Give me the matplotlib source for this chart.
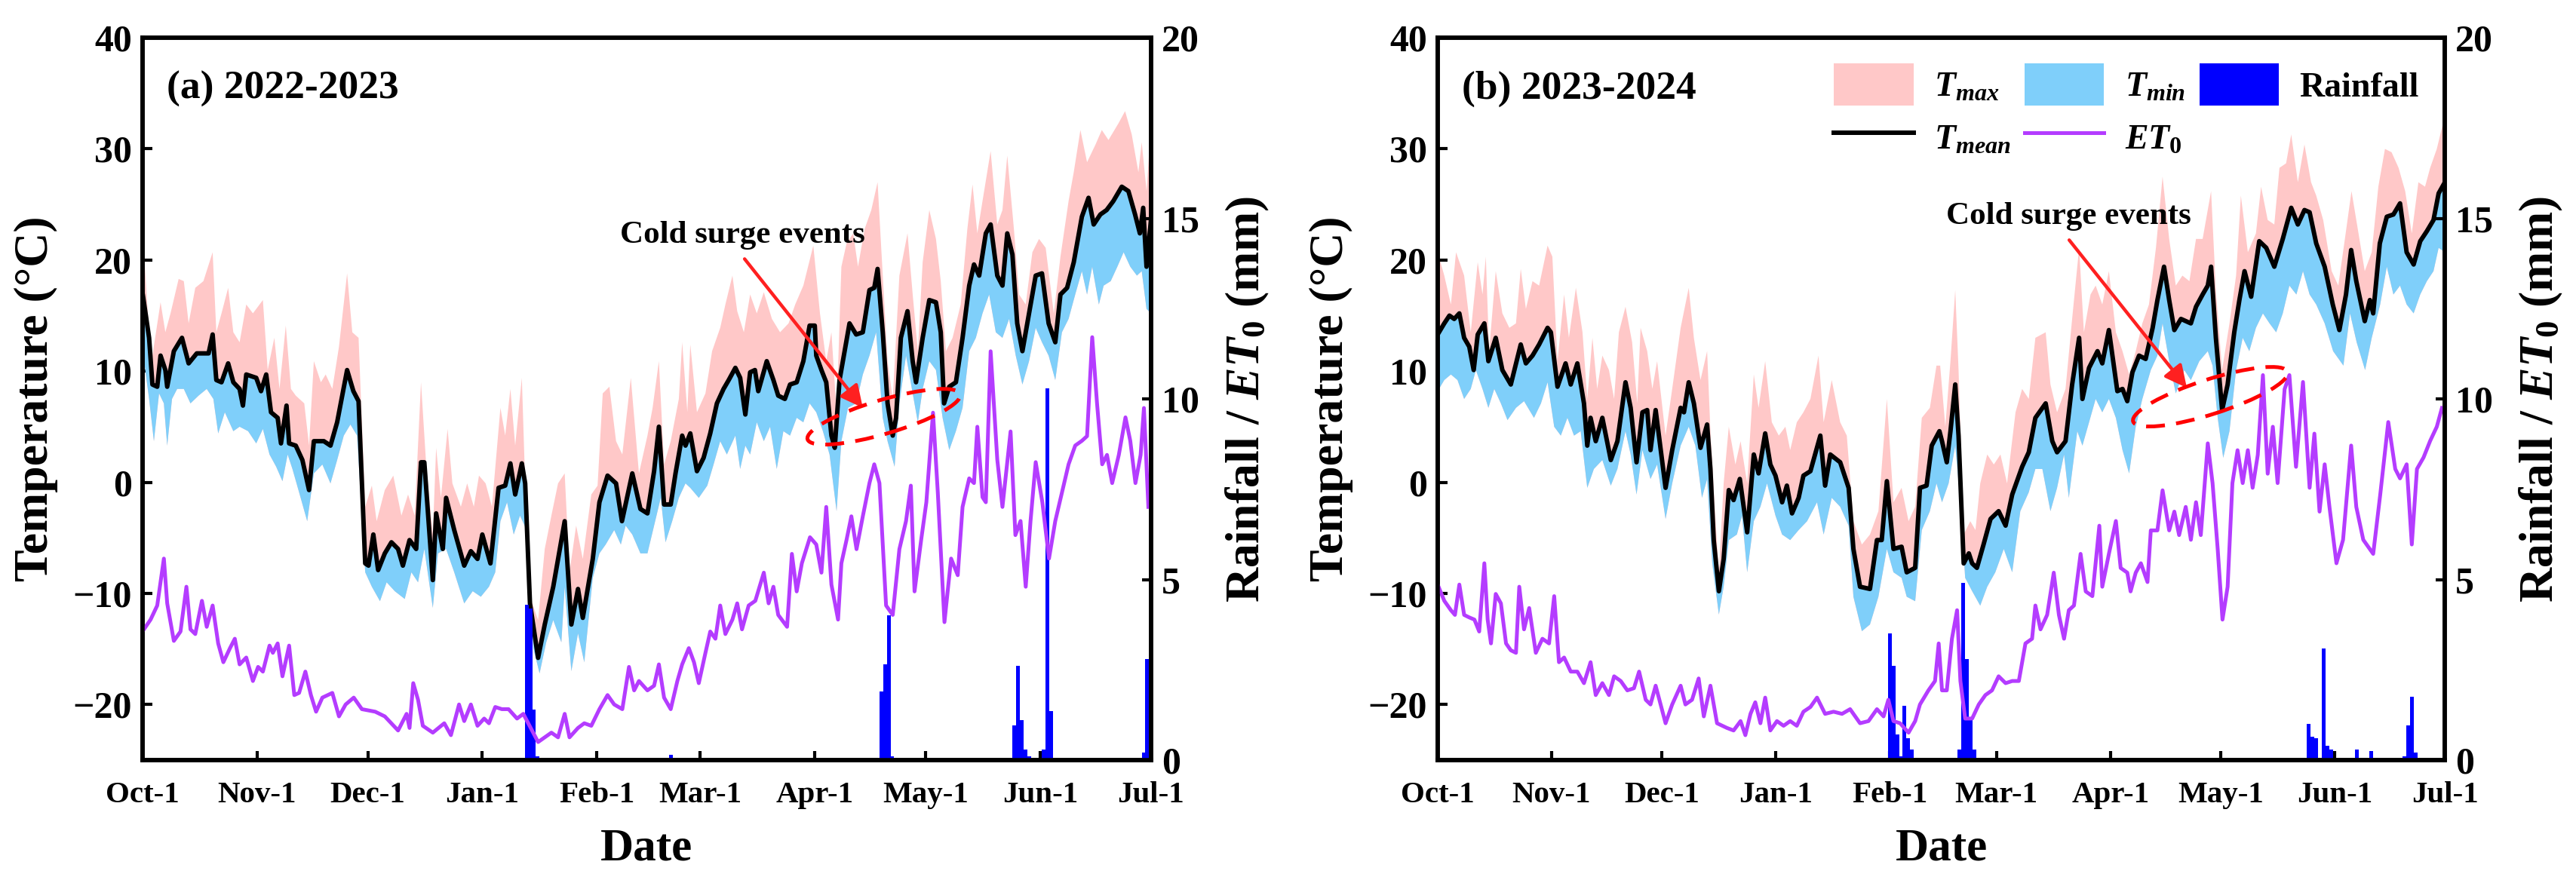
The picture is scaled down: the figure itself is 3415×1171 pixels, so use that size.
import numpy as np
import pandas as pd
import matplotlib
matplotlib.use("Agg")
from matplotlib import pyplot as plt
from matplotlib import transforms
from matplotlib.patches import Ellipse, Patch
from matplotlib.lines import Line2D

# daily weather of two growing seasons
# x values are days counted from Oct-1 of each season

# ---------------- (a) 2022-2023 ----------------
A_MEAN_DAY = [0, 1.8, 2.7, 4, 4.9, 6.2, 6.7, 8.5, 10.7, 12.5,
              14.7, 17.9, 19, 20, 21.4, 23.2, 24.6, 26.3, 27.2, 28.1,
              30.8, 32.1, 33.5, 34.8, 36.6, 37.5, 39, 39.7, 41.5, 43.3,
              45.1, 46.4, 49.1, 50.9, 52.7, 55.4, 57.1, 58.5, 60.3, 61.2,
              62.5, 63.8, 65.6, 67.4, 69.2, 70.5, 72.3, 74.1, 75.4, 76.3,
              78.6, 79.5, 81.3, 82.2, 84.4, 87.1, 88.9, 90.7, 92, 94.2,
              96.4, 98.2, 99.6, 100.9, 102.7, 103.6, 104.9, 107.1, 108.9, 111.2,
              114.3, 116.1, 117.9, 119.2, 121.9, 123.7, 125.9, 128.2, 129.8, 132.6,
              134.8, 136.7, 138.5, 139.8, 141.2, 143, 144.3, 146.1, 147, 148.3,
              150.1, 151.9, 153.7, 155.5, 157.3, 158.7, 160.5, 161.8, 163.2, 164.5,
              165.8, 166.7, 169, 170.8, 172.1, 173.9, 175.3, 177.1, 178.9, 180.6,
              182, 182.4, 183.8, 185.1, 186.5, 187.4, 188.7, 191.4, 193.2, 195,
              196.8, 198.1, 199, 200.4, 201.7, 203.1, 204, 205.3, 207.1, 208.5,
              209.4, 211.2, 213, 214.8, 216.1, 217, 218.4, 220.2, 222, 223.8,
              225.1, 226.5, 228.3, 229.6, 231.4, 232.8, 234.1, 235.5, 236.8, 238.2,
              240, 241.8, 243.5, 245.3, 247.1, 248.5, 250.3, 252.1, 254.3, 256.1,
              257.5, 259.3, 261, 262.8, 265.1, 266.9, 268.7, 270, 270.9, 271.8,
              273]
A_MEAN = [17.1, 13, 8.8, 8.6, 11.4, 10.1, 8.6, 11.8, 13, 10.7,
          11.6, 11.6, 13.3, 9.2, 9, 10.7, 9, 8.4, 6.9, 9.7,
          9.4, 8.2, 9.7, 6.3, 5.8, 3.5, 6.9, 3.5, 3.3, 2,
          -0.7, 3.7, 3.7, 3.3, 5.4, 10.1, 8.2, 7.3, -7.3, -7.5,
          -4.7, -7.9, -6.4, -5.4, -6, -7.5, -5.2, -6, 1.8, 1.8,
          -8.8, -2.8, -6, -1.4, -4.3, -7.5, -6.2, -6.9, -4.7, -7.3,
          -0.5, -0.3, 1.7, -1.1, 1.7, -0.1, -10.9, -15.8, -12.8, -9.4,
          -3.5, -12.8, -9.6, -12.2, -6.9, -1.8, 0.6, -0.1, -3.5, 0.8,
          -2.4, -2.8, 1, 5, -2, -2, 0.8, 4.2, 3.3, 4.4,
          1, 2.2, 4.4, 7.1, 8.4, 9.2, 10.3, 9.4, 6.1, 9.9,
          10.1, 8.2, 10.9, 9.2, 7.8, 7.5, 8.8, 9, 10.9, 14.1,
          14.1, 11.4, 10.1, 9, 4.2, 3.1, 9.2, 14.3, 13.3, 13.5,
          17.3, 17.5, 19.2, 13.5, 7.1, 4.2, 5.8, 13, 15.4, 10.9,
          9, 13, 16.4, 16.2, 13.5, 7.1, 8.6, 9, 13, 17.7,
          19.6, 18.6, 22.4, 23.2, 18.6, 17.7, 22.4, 20.5, 14.3, 11.8,
          15.2, 18.6, 18.8, 14.3, 12.6, 16.9, 17.5, 19.8, 23.9, 25.6,
          23.2, 24.1, 24.5, 25.3, 26.6, 26.2, 24.1, 22.4, 24.7, 19.4,
          23.6]

A_MAX_DAY = [0, 1.8, 2.7, 4.9, 6.2, 7.6, 9.8, 11.2, 12.5, 14.3,
             16.5, 19, 20, 21.4, 23.2, 24.6, 26.3, 28.1, 29.9, 32.6,
             33.9, 35.7, 37.1, 38.8, 40.2, 41.5, 43.8, 45.1, 46.4, 48.3,
             49.6, 51.4, 53.2, 55.4, 56.8, 58.5, 60.3, 62.1, 63.4, 65.6,
             67.9, 70.1, 71.9, 73.7, 75.4, 76.8, 78.6, 79.5, 80.8, 82.6,
             83.9, 86.2, 87.9, 89.7, 91.1, 92.9, 94.6, 96.9, 98.2, 99.6,
             100.9, 102.7, 103.6, 104.9, 107.1, 108.9, 110.7, 112.5, 114.3, 115.6,
             117.4, 119.2, 121.5, 123.2, 124.6, 126.4, 128.2, 129.9, 132.2, 134.4,
             136.7, 138.1, 139.8, 141.2, 143, 145.2, 146.1, 147.5, 148.3, 150.1,
             152.4, 154.2, 156.4, 157.8, 159.7, 161, 162.8, 164.5, 166.3, 168.2,
             170.4, 172.6, 174.9, 176.7, 178.9, 181.6, 183.4, 185.1, 186.5, 187.9,
             189.2, 190.6, 192.4, 193.7, 195.5, 197.3, 199, 200.4, 201.7, 203.1,
             204.9, 207.1, 208.5, 209.9, 211.2, 213, 214.8, 216.1, 217.5, 219.3,
             221.5, 223.3, 224.7, 226, 227.4, 229.6, 231.4, 232.8, 234.1, 235.9,
             237.3, 239.1, 240.9, 242.7, 244.5, 246.7, 248.5, 250.7, 252.1, 253.9,
             255.7, 258, 259.7, 261.5, 264.2, 266, 267.8, 269.6, 270.5, 271.8,
             273]
A_MAX = [22.8, 13.5, 11.4, 16.2, 13.5, 15.2, 18.3, 18.1, 14.3, 17.5,
         18.1, 20.7, 13.5, 15.2, 17.5, 13.5, 12.6, 16, 15.2, 16.4,
         10.1, 13, 8.4, 14.1, 8.4, 7.8, 7.1, 3.3, 10.9, 9,
         9.7, 8.4, 12.2, 18.8, 13.5, 13, -2.2, -0.3, -3.5, -0.7,
         0.6, -3, -1.1, -3, 9, 1.6, -4.7, 3.1, -1.4, 4.8,
         -0.1, -2.2, -0.1, -2.2, 0.6, -0.1, -2.2, 6.7, 4.2, 8.4,
         3.3, 9.4, -0.1, -10.3, -12.4, -6, -3, -0.1, 0.8, -8.1,
         -3.9, -6.9, -1.1, -0.3, 8, 8.6, 3.7, 2.5, 9.4, 0.8,
         4.2, 6.7, 10.9, 1.6, 3.7, 7.5, 12.6, 6.3, 12.4, 6.3,
         8, 11.8, 13.9, 16, 18.6, 15.4, 13.5, 16.9, 15.2, 17.1,
         14.7, 13.5, 14.3, 16, 17.7, 21.3, 15.2, 10.9, 13.5, 6.3,
         19.4, 21.5, 22.4, 19.4, 22.8, 24.5, 27, 18.6, 10.9, 7.5,
         18.6, 22.4, 16.9, 11.8, 19.8, 24.5, 21.9, 18.1, 11.8, 13,
         16, 22.8, 26.8, 22.4, 25.3, 29.8, 23.2, 24.5, 29.4, 22.8,
         16.9, 16, 20.7, 21.9, 21.1, 15.2, 20.3, 25.3, 27.9, 31.7,
         28.8, 30.4, 31.7, 30.8, 32.3, 33.4, 31.3, 27.9, 30.6, 26.2,
         32.1]

A_MIN_DAY = [0, 1.8, 3.1, 4.5, 5.8, 6.7, 8, 9.4, 11.2, 13,
             15.2, 17.4, 19.2, 20.5, 22.3, 24.6, 26.3, 28.6, 30.8, 32.6,
             34.4, 36.2, 37.9, 39.3, 40.6, 42.4, 44.6, 46.4, 48.7, 50.9,
             52.7, 54.5, 56.3, 58.1, 60.3, 62.1, 64.3, 66.1, 68.3, 71,
             72.8, 74.6, 76.3, 78.6, 80, 82.2, 84.4, 87.1, 89.4, 91.6,
             93.8, 95.5, 96.9, 98.7, 100.5, 102.2, 104, 105.8, 107.5, 109.3,
             111.2, 113.4, 114.3, 116.1, 117.9, 119.6, 121.9, 123.7, 125.4, 127.7,
             129.5, 130.8, 132.6, 134.8, 136.7, 138.5, 140.3, 141.6, 143.4, 145.2,
             147, 148.3, 150.6, 152.9, 154.6, 156.4, 158.2, 160.5, 161.8, 163.2,
             164.5, 166.3, 168.2, 169.9, 171.7, 173.5, 175.3, 177.1, 178.9, 180.6,
             182.4, 184.2, 186, 187.9, 189.2, 191, 193.2, 195, 196.8, 198.6,
             200.4, 201.7, 203.6, 204.9, 206.7, 208.5, 209.9, 211.2, 213, 214.8,
             216.6, 218.4, 220.2, 222, 223.8, 225.6, 227.4, 229.2, 231, 232.8,
             234.6, 236.4, 238.2, 240, 241.8, 243.5, 245.3, 247.1, 248.9, 250.7,
             252.5, 254.3, 255.7, 257.1, 258.9, 260.2, 262.1, 263.9, 265.6, 267.4,
             269.2, 270.5, 271.8, 273]
A_MIN = [12, 7.5, 3.7, 8, 7.1, 3.3, 7.5, 8.4, 8.4, 7.1,
         7.8, 8.4, 7.5, 4.4, 6.3, 4.6, 5, 4.6, 3.5, 4.8,
         2.5, 1.4, 0.1, 2.5, 1.2, -0.9, -3.5, 0.8, 1.6, -0.1,
         2, 4.2, 5.2, 4.2, -8.1, -9.4, -10.7, -9, -9.8, -10.5,
         -8.1, -9, -6, -11.3, -6.4, -6, -8.1, -10.9, -9.8, -10.3,
         -9.4, -8.1, -3.5, -1.8, -4.7, -3, -4.3, -14.9, -17.2, -14.4,
         -12.4, -14.4, -9.4, -17, -13.6, -16.2, -8.6, -6.4, -5.6, -4.3,
         -5.6, -3.9, -4.7, -6.4, -6.4, -3.9, -1.4, -5.4, -3.5, -1.4,
         -0.1, -0.5, -1.4, -0.3, 1.6, 3.7, 2.5, 4.2, 1.2, 3.3,
         2.5, 5.4, 3.7, 5, 1.2, 4.6, 4.2, 5.8, 5.4, 7.1,
         6.3, 4.6, 2.5, -2.6, 3.7, 6.7, 7.1, 9.7, 11.4, 13.5,
         5.8, 3.7, 1.4, 7.1, 11.4, 8, 5.4, 8.4, 10.9, 10.1,
         5.8, 2.9, 4.6, 6.7, 11.8, 13, 15.2, 16.9, 13.5, 13,
         14.7, 11.4, 8.8, 10.9, 13.9, 12.6, 11.4, 9.2, 13.5, 14.7,
         16.9, 19, 16.9, 19.4, 16, 17.7, 18.1, 19.4, 20.7, 19.4,
         18.6, 19, 15.6, 15.2]

A_ET0_DAY = [0, 2.2, 4, 5.8, 6.7, 8.5, 10.3, 11.9, 13, 14.3,
             16.1, 17.4, 19, 20.5, 21.9, 23.7, 25, 26.3, 28.1, 29.9,
             31.3, 32.6, 34.4, 35.3, 36.6, 37.9, 39.7, 41.1, 42.4, 44.1,
             45.6, 47, 48.7, 51.4, 53.2, 55, 57.2, 59.4, 63, 65.6,
             69.2, 71.5, 72.3, 73.3, 74.6, 75.9, 78.6, 81.7, 83.5, 85.7,
             87.1, 88.9, 90.7, 92.5, 93.8, 95.5, 97.3, 99.1, 101.4, 103.1,
             107.1, 108.9, 110.7, 112.5, 114.3, 115.6, 117.9, 119.6, 121.5, 123.7,
             125.9, 127.7, 129.9, 131.7, 133.1, 134.4, 136.7, 138.5, 139.8, 141.2,
             143, 144.8, 146.1, 147.9, 149.3, 150.6, 152.4, 153.7, 155.1, 156.4,
             157.8, 159.7, 161, 162.3, 164.1, 165.9, 168.2, 169.5, 170.8, 172.1,
             174.5, 175.8, 177.1, 178.5, 180.7, 182.4, 183.8, 185.1, 186.5, 188.3,
             189.2, 190.6, 191.9, 193.3, 195, 196.8, 198.1, 199.5, 201.3, 203.1,
             204.9, 206.7, 208, 209, 210.8, 212.2, 214, 215.3, 217.1, 218.9,
             220.7, 222, 223.8, 225.1, 226, 227.4, 228.3, 229.6, 231.4, 232.8,
             235, 236.3, 237.7, 239.1, 240.4, 241.8, 243.6, 245.4, 247.1, 248.9,
             250.7, 252.5, 254.3, 255.7, 257.1, 258.4, 259.8, 261.1, 262.5, 264.3,
             266.1, 267.4, 268.8, 270.2, 271.1, 272.3]
A_ET0 = [3.56, 3.89, 4.28, 5.58, 4.34, 3.3, 3.56, 4.8, 3.62, 3.49,
         4.41, 3.69, 4.28, 3.23, 2.71, 3.1, 3.36, 2.65, 2.84, 2.19,
         2.58, 2.45, 3.17, 2.97, 3.23, 2.32, 3.17, 1.8, 1.86, 2.45,
         1.8, 1.34, 1.73, 1.86, 1.21, 1.54, 1.73, 1.41, 1.34, 1.21,
         0.82, 1.28, 0.89, 2.13, 1.67, 0.95, 0.76, 1.02, 0.69, 1.54,
         1.08, 1.54, 0.95, 1.15, 1.02, 1.47, 1.41, 1.41, 1.15, 1.28,
         0.5, 0.63, 0.76, 0.63, 1.28, 0.63, 0.89, 1.02, 0.95, 1.41,
         1.8, 1.54, 1.41, 2.58, 1.93, 2.19, 1.93, 2.06, 2.65, 1.73,
         1.41, 2.19, 2.65, 3.1, 2.71, 2.13, 2.97, 3.56, 3.36, 4.28,
         3.49, 3.89, 4.34, 3.62, 4.28, 4.41, 5.19, 4.34, 4.8, 4.02,
         3.69, 5.71, 4.67, 5.45, 6.17, 5.97, 5.19, 7.01, 4.86, 3.89,
         5.45, 6.1, 6.75, 5.84, 6.75, 7.67, 8.19, 7.67, 4.28, 4.02,
         5.84, 6.62, 7.6, 4.67, 6.1, 7.14, 9.62, 7.41, 3.82, 5.58,
         5.12, 7.01, 7.8, 7.67, 9.23, 7.28, 7.14, 11.32, 8.32, 7.01,
         9.1, 6.23, 6.62, 4.8, 6.62, 8.25, 7.14, 5.58, 6.62, 7.41,
         8.19, 8.71, 8.84, 8.97, 11.71, 9.88, 8.19, 8.45, 7.67, 8.45,
         9.49, 8.84, 7.67, 8.45, 9.75, 7.01]

A_RAIN_DAY = [104, 105, 106, 107, 143, 200, 201, 202, 203, 236,
              237, 238, 239, 240, 244, 245, 246, 271, 272]
A_RAIN = [4.3, 4.2, 1.4, 0.1, 0.15, 1.9, 2.65, 4.0, 0.1, 0.95,
          2.6, 1.1, 0.3, 0.1, 0.3, 10.3, 1.35, 0.2, 2.8]

# ---------------- (b) 2023-2024 ----------------
B_MEAN_DAY = [0, 1.8, 3.2, 4.5, 5.9, 7.2, 8.6, 9.8, 10.9, 12.7,
              13.8, 15.8, 17.6, 19.9, 22.6, 24, 25.8, 27.6, 29.9, 30.8,
              32.6, 34.8, 36.2, 38, 39.8, 40.7, 41.6, 43, 44.8, 47.1,
              48.9, 51.1, 52.5, 54.1, 55.7, 57, 57.9, 59.3, 62, 63.8,
              66.1, 67, 68.3, 69.7, 71.5, 73.3, 74.2, 75.1, 76.5, 77.8,
              79.2, 80.5, 82.2, 84.2, 86, 87.3, 89.1, 90.5, 91.9, 93.7,
              95, 96.4, 98.2, 99.5, 101.4, 104.1, 105.4, 106.8, 109.5, 111.8,
              113.1, 114.9, 117.6, 119.5, 120.8, 122.2, 124, 126.2, 127.6, 129.9,
              131.2, 133, 134.4, 136.5, 137.2, 138.5, 139.5, 140.8, 141.7, 143.1,
              144.5, 145.4, 146.7, 148.5, 150.4, 152.6, 154.5, 156.3, 159, 160.8,
              162.6, 165.4, 167.2, 168.5, 170.8, 172.6, 174.5, 175.4, 177.2, 179.5,
              180.8, 182.6, 184.9, 186.3, 187.6, 189, 190.8, 192.6, 194.5, 195.8,
              197.6, 199, 200.4, 202.2, 204.9, 206.3, 208.1, 209.5, 210.4, 211.7,
              213.4, 214.9, 216.7, 218.1, 219.5, 221.3, 223.5, 225.4, 227.6, 229.9,
              232.2, 234, 235.8, 237.2, 239, 241.3, 243.5, 245.3, 247.1, 248.5,
              249.9, 252.2, 253.6, 254.5, 256.3, 258.2, 260, 261.8, 263.6, 265.5,
              267.3, 269.1, 270.9, 272.3, 274]
B_MEAN = [13.3, 14.3, 15, 14.7, 15.2, 13, 12.2, 10.1, 13.3, 14.3,
          10.9, 13, 10.1, 8.8, 12.4, 10.7, 11.4, 12.4, 13.9, 13.5,
          8.6, 10.7, 8.8, 10.7, 7.1, 3.3, 5.8, 3.7, 5.8, 2,
          3.7, 9, 6.7, 1.8, 6.3, 6.5, 2.9, 6.5, -0.5, 2.9,
          6.7, 6.3, 9, 7.1, 3.1, 5.2, 1.2, -5.2, -9.8, -6.9,
          -0.7, -1.6, 0.3, -4.5, 2.5, 0.8, 4.4, 1.6, 0.6, -1.8,
          -0.3, -2.8, -1.4, 0.6, 1, 4.2, -0.3, 2.5, 1.8, -0.5,
          -6, -9.4, -9.6, -5.2, -5.2, 0.1, -6, -5.8, -8.1, -7.7,
          -0.5, -0.3, 3.3, 4.6, 3.7, 1.8, 4.6, 8.8, 4.2, -7.3,
          -6.4, -7.3, -7.7, -5.6, -3.3, -2.6, -3.9, -1.1, 1.4, 2.7,
          5.8, 7.1, 3.7, 2.7, 3.7, 8.8, 13, 7.5, 10.3, 11.8,
          10.7, 13.7, 8.2, 8.4, 7.3, 9.9, 11.4, 11.1, 13.9, 16.4,
          19.4, 16.4, 13.7, 14.7, 14.3, 15.8, 16.9, 17.7, 19.4, 13,
          6.5, 8.8, 13.5, 16.4, 19, 16.7, 21.7, 21.1, 19.4, 21.9,
          24.7, 23.2, 24.5, 24.3, 21.5, 19.4, 16, 13.7, 16.9, 20.9,
          18.1, 14.5, 16.4, 15.2, 21.5, 23.9, 24.1, 25.1, 20.7, 19.6,
          21.7, 22.6, 23.6, 26, 27]

B_MAX_DAY = [0, 1.8, 3.6, 5, 7.2, 9, 10.9, 12.2, 13.1, 14,
             15.8, 17.6, 19.5, 21.3, 22.6, 24, 25.8, 27.6, 29.9, 31.2,
             32.6, 34.4, 35.7, 37.6, 39.4, 40.7, 42.1, 43.4, 44.8, 46.6,
             48, 49.3, 51.1, 52.9, 54.3, 55.2, 57, 58.4, 59.7, 62,
             63.8, 66.1, 68.3, 69.7, 71.5, 73.3, 74.2, 75.6, 76.5, 77.8,
             79.2, 81, 82.4, 84.2, 86, 87.3, 89.1, 90.9, 92.8, 94.6,
             95.9, 97.7, 99.5, 101.4, 103.6, 105, 107.2, 109.5, 111.3, 113.1,
             115.4, 117.6, 119.9, 122.2, 124, 126.2, 128.1, 129.9, 131.7, 133.9,
             135.7, 136.7, 138.1, 139.5, 140.8, 141.7, 143.1, 144.9, 146.3, 147.6,
             149.5, 151.3, 153.1, 154.9, 157.2, 159, 160.8, 162.6, 165.4, 166.7,
             168.5, 170.8, 172.6, 174.5, 175.8, 177.6, 179, 180.8, 182.6, 184.5,
             186.3, 188.1, 189.9, 191.7, 193.5, 195.4, 197.2, 199, 200.8, 202.6,
             204.5, 206.3, 208.1, 210.4, 211.7, 213.4, 215.4, 217.2, 218.5, 220.4,
             222.6, 224, 225.8, 227.6, 229, 230.8, 232.2, 234, 235.8, 237.6,
             239, 240.9, 243.2, 245, 246.8, 248.6, 250.5, 252.2, 254.1, 255.9,
             257.7, 259.5, 261.4, 263.2, 265, 266.8, 268.6, 270, 271.8, 274]
B_MAX = [20.7, 18.6, 16, 20.7, 18.6, 13.5, 19.8, 16.9, 20.3, 11.8,
         19, 15.2, 13.9, 14.3, 19.2, 15.6, 18.1, 17.7, 21.3, 20.3,
         10.9, 16.9, 13, 17.5, 13.5, 7.5, 13, 8.4, 11.4, 10.1,
         7.5, 13.5, 15.8, 12.6, 7.1, 13.9, 11.8, 8.4, 10.9, 4.2,
         8.4, 13.9, 17.5, 13, 9.2, 11.8, 4.6, -3.5, -8.1, -0.1,
         5, 1.6, 3.7, -0.1, 9.7, 6.7, 10.9, 5.4, 4.2, 5,
         2.9, 5.4, 6.3, 7.5, 11.4, 5.4, 9.2, 5.4, 4.2, -3.5,
         -5.6, -4.7, -2.6, 7.5, -1.8, -0.5, -3.5, -2.2, 5.8, 6.7,
         10.5, 10.5, 5, 10.9, 17.3, 10.1, -4.7, -3.5, -4.3, -0.1,
         2.5, 1.6, 2.5, -0.1, 6.3, 8.4, 7.5, 13, 13.5, 8.8,
         6.3, 8.4, 14.7, 21.1, 13.5, 16.9, 17.7, 16, 19, 13.5,
         11.8, 9.7, 11.8, 14.3, 16, 21.1, 27.5, 21.9, 17.7, 18.6,
         18.1, 21.9, 21.9, 26.2, 17.3, 10.1, 14.3, 18.6, 25.8, 20.7,
         22.4, 26.6, 23.6, 23.2, 28.3, 28.7, 31.3, 27, 30.4, 27,
         25.8, 23.6, 19, 17.7, 21.9, 26.2, 22.4, 19, 20.7, 26.6,
         30, 29.7, 28.3, 26.2, 22.4, 27, 26.6, 28.3, 30, 33]

B_MIN_DAY = [0, 1.8, 3.6, 5.4, 7.2, 9, 10.4, 12.2, 13.8, 15.4,
             17.2, 19, 21.3, 23.5, 26.2, 28.1, 29.9, 31.7, 33.5, 35.3,
             37.1, 38.9, 40.7, 42.5, 44.8, 47.1, 48.9, 51.1, 52.5, 54.1,
             55.7, 57.9, 59.7, 62, 63.8, 66.1, 68.3, 70.1, 71.9, 73.3,
             74.7, 76.5, 77.8, 79.2, 81.4, 82.8, 84.2, 86, 87.8, 89.6,
             91.9, 93.7, 95.9, 98.2, 100.5, 103.2, 105, 107.2, 109.5, 111.8,
             113.1, 115.4, 117.6, 119.9, 122.2, 124, 126.2, 127.6, 129.9, 131.7,
             133.9, 135.7, 137.2, 139, 140.8, 142.2, 143.5, 145.4, 147.6, 149.5,
             151.7, 154, 156.3, 158.5, 160.8, 162.6, 164.5, 166.7, 168.5, 170.4,
             171.7, 174, 175.4, 177.2, 179, 180.8, 182.6, 184.5, 186.3, 188.1,
             189.9, 191.7, 194, 195.8, 197.2, 199, 200.8, 203.1, 204.9, 207.2,
             209.5, 210.8, 212.2, 213.7, 215.4, 217.2, 219, 220.8, 222.6, 224.5,
             226.3, 228.1, 229.9, 231.7, 233.6, 235.4, 237.2, 239, 241.3, 243.6,
             246.4, 248.2, 250, 252.3, 254.1, 256.4, 258.2, 260, 261.8, 263.6,
             265.5, 267.3, 269.1, 270.9, 272.3, 274]
B_MIN = [8.2, 9.2, 9.7, 9.2, 7.5, 8.4, 10.1, 8.4, 6.7, 8.4,
         7.1, 5.6, 6.7, 7.3, 5.8, 7.1, 9, 5, 4.2, 5.8,
         4.2, 4.6, -0.5, 1.2, 2, -0.3, 1.2, 4.6, 2.5, -1.1,
         2.9, 0.3, 1.6, -3.3, -0.1, 3.3, 5, 3.3, -1.4, 0.3,
         -7.3, -11.9, -9.4, -5.2, -4.7, -3, -8.1, -3.5, -2.2, -0.1,
         -3, -4.7, -5.2, -4.3, -3.5, -1.8, -4.7, -1.4, -2.2, -3.9,
         -10.3, -13.4, -12.8, -10.3, -6, -8.1, -8.6, -10.3, -10.7, -4.3,
         -2.6, -0.1, -1.8, -0.1, 3.3, -1.8, -8.6, -9.8, -11.1, -9.4,
         -8.1, -6, -8.1, -2.6, -0.9, 1.2, 1.2, -2.6, -0.5, 2.5,
         -1.4, 4.6, 3.3, 5.4, 7.5, 6.3, 7.5, 5.8, 2.9, 0.8,
         5, 7.5, 10.1, 11.4, 14.3, 10.9, 8, 10.1, 9.2, 10.9,
         11.8, 10.5, 5.8, 2.2, 4.6, 10.1, 13, 11.8, 13.9, 15.2,
         14.3, 13.5, 15.2, 17.7, 16.9, 19, 16.9, 16, 14.3, 11.8,
         10.5, 15.2, 12.6, 10.1, 13, 16, 19.4, 16.9, 17.7, 16,
         15.2, 16.9, 18.1, 19, 21.1, 20.7]

B_ET0_DAY = [0, 1.8, 3.6, 4.7, 5.9, 7.2, 8.6, 10, 11.3, 12.7,
             13.6, 14.5, 15.8, 17.2, 18.6, 19.9, 21.3, 22.2, 23.5, 24.9,
             26.7, 28.5, 30.3, 31.7, 33, 34.4, 36.2, 38, 39.8, 41.6,
             43, 44.8, 46.6, 48, 49.8, 51.6, 53.4, 54.8, 56.6, 57.9,
             59.3, 62, 63.8, 66.1, 67.4, 69.2, 71, 72.4, 74.2, 76,
             78.7, 80.5, 82.4, 83.7, 85.1, 86.4, 87.8, 89.1, 90.5, 92.3,
             94.1, 95.9, 97.7, 99.5, 101.4, 103.2, 105.4, 107.7, 110, 112.2,
             114.9, 117.2, 119.5, 121.3, 122.6, 124, 125.8, 128.1, 129.9, 131.2,
             133.5, 135.3, 136.3, 137.2, 138.5, 139.9, 141.3, 142.2, 143.5, 145.4,
             147.2, 149, 150.8, 152.6, 154.5, 156.3, 158.1, 159.9, 161.7, 162.6,
             164, 165.8, 167.6, 169, 170.4, 171.7, 173.1, 174.9, 176.3, 178.1,
             180, 180.8, 182.6, 184.5, 185.8, 187.6, 188.5, 189.9, 191.3, 193.1,
             194, 195.8, 197.2, 199, 200.4, 201.7, 203.5, 204.9, 206.3, 207.6,
             209.5, 210.8, 212.2, 213.5, 214.9, 216.2, 217.6, 219, 220.4, 221.7,
             223.1, 224.5, 225.8, 227.2, 228.5, 230.4, 231.7, 233.5, 235.4, 237.2,
             238.5, 239.9, 241.3, 242.6, 244.5, 246.3, 248.5, 249.9, 251.8, 254.5,
             256.4, 258.6, 260.5, 261.8, 263.6, 265, 266.4, 268.2, 270, 271.8,
             273.2]
B_ET0 = [4.86, 4.41, 4.15, 4.02, 4.86, 4.02, 3.95, 3.89, 3.56, 5.45,
         3.89, 3.23, 4.6, 4.34, 3.23, 3.04, 2.97, 4.8, 3.62, 4.21,
         2.97, 3.36, 3.23, 4.54, 2.71, 2.84, 2.45, 2.45, 2.13, 2.71,
         1.8, 2.13, 1.8, 2.32, 2.19, 1.93, 1.99, 2.45, 1.67, 1.54,
         2.06, 1.02, 1.54, 2.06, 1.54, 1.67, 2.26, 1.21, 2.06, 1.02,
         0.89, 0.82, 1.08, 0.69, 1.28, 1.6, 1.02, 1.73, 0.82, 1.08,
         0.95, 1.08, 0.95, 1.34, 1.47, 1.73, 1.28, 1.34, 1.28, 1.41,
         1.02, 1.08, 1.41, 1.21, 1.67, 1.08, 1.02, 0.76, 1.08, 1.54,
         1.93, 2.19, 3.23, 1.93, 1.93, 3.36, 4.15, 2.19, 1.15, 1.15,
         1.54, 1.8, 1.93, 2.32, 2.13, 2.19, 2.19, 3.23, 3.36, 4.28,
         3.62, 4.02, 5.19, 4.02, 3.36, 4.15, 4.28, 5.71, 4.67, 4.54,
         6.49, 4.8, 5.71, 6.62, 5.32, 5.19, 4.67, 5.19, 5.45, 4.93,
         6.36, 6.36, 7.47, 6.36, 6.88, 6.23, 7.01, 6.1, 7.14, 6.23,
         8.77, 7.67, 5.84, 3.89, 4.8, 7.67, 8.58, 7.67, 8.58, 7.54,
         8.45, 10.66, 7.93, 9.23, 7.67, 10.27, 10.66, 8.12, 10.47, 7.54,
         9.04, 6.88, 8.19, 7.01, 5.45, 6.1, 8.71, 7.01, 6.1, 5.71,
         7.34, 9.36, 8.06, 7.8, 8.19, 5.97, 8.06, 8.38, 8.84, 9.23,
         9.75]

B_RAIN_DAY = [123, 124, 125, 126, 127, 128, 129, 142, 143, 144,
              145, 146, 237, 238, 239, 241, 242, 243, 250, 254,
              263, 264, 265, 266]
B_RAIN = [3.5, 2.6, 0.7, 0.1, 1.5, 0.6, 0.3, 0.3, 4.9, 2.8,
          1.2, 0.3, 1.0, 0.65, 0.6, 3.1, 0.4, 0.3, 0.3, 0.25,
          0.1, 0.95, 1.75, 0.2]

SEASONS = ["(a) 2022-2023", "(b) 2023-2024"]
SEASON_START = ["2022-10-01", "2023-10-01"]
SEASON_END = ["2023-07-01", "2024-07-01"]

TMAX_COLOR = "#FFC8C8"
TMIN_COLOR = "#7FCFFA"
RAIN_COLOR = "#0000FF"
ET0_COLOR = "#B43CFF"
NOTE_COLOR = "#FF2020"

plt.rcParams['font.family'] = ['Liberation Serif', 'DejaVu Serif']
plt.rcParams['font.weight'] = 'bold'
plt.rcParams['axes.labelweight'] = 'bold'
plt.rcParams['mathtext.fontset'] = 'custom'
plt.rcParams['mathtext.rm'] = 'Liberation Serif:bold'
plt.rcParams['mathtext.it'] = 'Liberation Serif:italic:bold'
plt.rcParams['mathtext.bf'] = 'Liberation Serif:bold'


def month_ticks(start, end):
    # first day of each month, as day offsets from the season start
    months = pd.date_range(start, end, freq='MS')
    offsets = (months - pd.Timestamp(start)).days
    return offsets, [m.strftime('%b') + '-1' for m in months]


def draw_panel(ax, title, start, end, tmax, tmean, tmin, et0, rain, note):
    max_d, max_v = np.array(tmax[0]), np.array(tmax[1])
    mean_d, mean_v = np.array(tmean[0]), np.array(tmean[1])
    min_d, min_v = np.array(tmin[0]), np.array(tmin[1])

    # pink band from Tmax down to Tmin, blue band from Tmean down to Tmin
    ax.fill(np.r_[max_d, min_d[::-1]], np.r_[max_v, min_v[::-1]],
            color=TMAX_COLOR, lw=0, zorder=1)
    ax.fill(np.r_[mean_d, min_d[::-1]], np.r_[mean_v, min_v[::-1]],
            color=TMIN_COLOR, lw=0, zorder=2)
    ax.plot(mean_d, mean_v, color='black', lw=4.3, zorder=3)

    n_days = (pd.Timestamp(end) - pd.Timestamp(start)).days
    ax.set_xlim(0, n_days)
    ax.set_ylim(-25, 40)
    ax.set_yticks([-20, -10, 0, 10, 20, 30, 40])
    ticks, labels = month_ticks(start, end)
    ax.set_xticks(ticks)
    ax.set_xticklabels(labels)
    ax.tick_params(axis='y', direction='in', length=9, width=3, labelsize=36, pad=10)
    ax.tick_params(axis='x', direction='in', length=9, width=3, labelsize=29.5, pad=20)
    ax.set_ylabel('Temperature (°C)', fontsize=46, labelpad=14)
    ax.set_xlabel('Date', fontsize=44, labelpad=18)

    ax2 = ax.twinx()
    ax2.bar(rain[0], rain[1], width=1.0, color=RAIN_COLOR, lw=0)
    ax2.plot(et0[0], et0[1], color=ET0_COLOR, lw=3.6)
    ax2.set_ylim(0, 20)
    ax2.set_yticks([0, 5, 10, 15, 20])
    ax2.tick_params(axis='y', direction='in', length=9, width=3, labelsize=36, pad=10)
    ax2.set_ylabel(r'Rainfall / $\mathit{ET}_{\mathit{0}}$ (mm)', fontsize=46, labelpad=24)

    for a in (ax, ax2):
        for s in a.spines.values():
            s.set_linewidth(4)

    ax.text(0.024, 0.929, title, transform=ax.transAxes, fontsize=38.5,
            va='center', ha='left')

    # cold surge note: text, arrow and dashed ellipse (in temperature units)
    (tx, ty), (sx, sy), (hx, hy), (cx, cy, w, h, ang) = note
    ax2.text(tx, ty, 'Cold surge events', transform=ax.transData,
             fontsize=31, ha='center', va='center', zorder=6)
    ax2.annotate('', xy=(hx, hy), xycoords=ax.transData,
                 xytext=(sx, sy), textcoords=ax.transData,
                 arrowprops=dict(arrowstyle='-|>', color=NOTE_COLOR, lw=3.2,
                                 mutation_scale=44, shrinkA=0, shrinkB=0),
                 zorder=6)
    trans = ax.figure.dpi_scale_trans + transforms.ScaledTranslation(cx, cy, ax.transData)
    ax2.add_patch(Ellipse((0, 0), w, h, angle=ang, transform=trans, fill=False,
                          ec='red', lw=3.6, ls=(0, (5, 3)), zorder=6))
    return ax2


fig = plt.figure(figsize=(34.15, 11.71), dpi=100)
ax_a = fig.add_axes([0.0553, 0.1392, 0.3915, 0.818])
ax_b = fig.add_axes([0.5581, 0.1392, 0.3910, 0.818])

draw_panel(ax_a, SEASONS[0], SEASON_START[0], SEASON_END[0],
           (A_MAX_DAY, A_MAX), (A_MEAN_DAY, A_MEAN), (A_MIN_DAY, A_MIN),
           (A_ET0_DAY, A_ET0), (A_RAIN_DAY, A_RAIN),
           ((162.5, 22.2), (163, 20.1), (195, 6.7), (200.7, 5.9, 2.11, 0.45, 16.5)))
ax_b2 = draw_panel(ax_b, SEASONS[1], SEASON_START[1], SEASON_END[1],
                   (B_MAX_DAY, B_MAX), (B_MEAN_DAY, B_MEAN), (B_MIN_DAY, B_MIN),
                   (B_ET0_DAY, B_ET0), (B_RAIN_DAY, B_RAIN),
                   ((171.7, 23.9), (171.8, 21.8), (203.8, 8.5), (210.2, 7.7, 2.15, 0.46, 17.8)))

handles = [Patch(color=TMAX_COLOR, lw=0), Line2D([], [], color='black', lw=4.3),
           Patch(color=TMIN_COLOR, lw=0), Line2D([], [], color=ET0_COLOR, lw=3.6),
           Patch(color=RAIN_COLOR, lw=0)]
labels = [r'$T_{max}$', r'$T_{mean}$', r'$T_{min}$', r'$ET_{\mathit{0}}$', 'Rainfall']
ax_b2.legend(handles, labels, ncol=3, loc='upper right', frameon=False,
             fontsize=33, handlelength=2.3, handleheight=1.5, handletextpad=0.6,
             columnspacing=0.4, labelspacing=0.3, borderaxespad=0.35)

fig.savefig('out.png', dpi=100)
